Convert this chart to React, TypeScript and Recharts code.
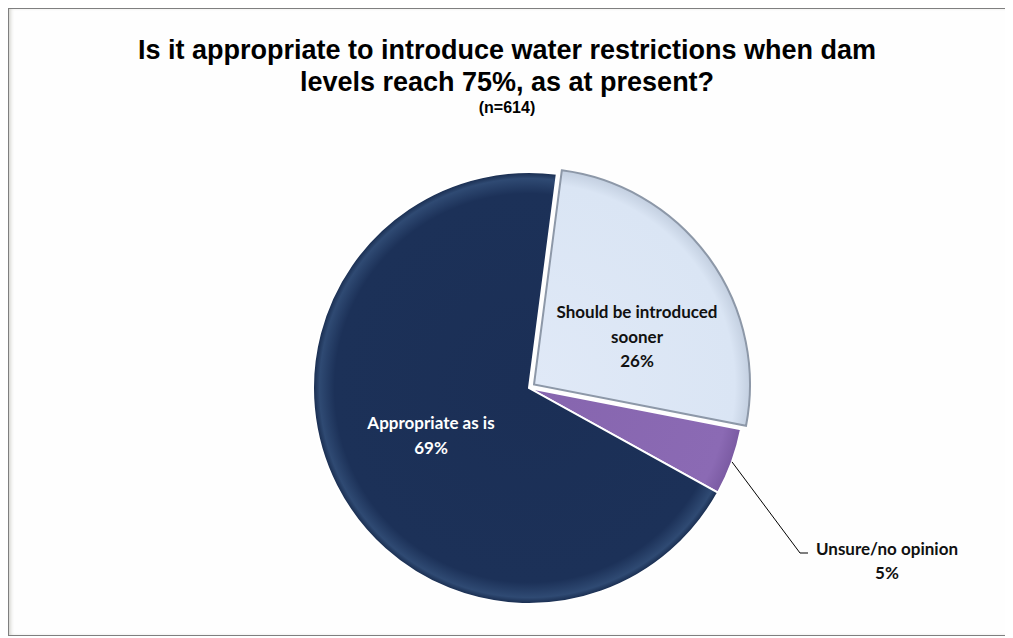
import { Cell, Pie, PieChart } from "recharts";

const categories = ["Should be introduced sooner", "Unsure/no opinion", "Appropriate as is"];
const shares = [26, 5, 69];
const labelText = [["Should be introduced", "sooner"], ["Unsure/no opinion"], ["Appropriate as is"]];
const titleLines = ["Is it appropriate to introduce water restrictions when dam", "levels reach 75%, as at present?"];
const subtitle = "(n=614)";

const COLORS = ["#dde7f6", "#8a69b2", "#1b2f55"];
const RADIAN = Math.PI / 180;

const data = categories.map((name, i) => ({ name, value: shares[i] }));

const labelFont = { fontFamily: "Lato, 'Open Sans', sans-serif", fontWeight: 700, fontSize: 17 };

function renderLabel(props: any) {
  const { cx, cy, index, midAngle, outerRadius, value } = props;
  const lines = [...labelText[index], `${value}%`];
  if (index === 0) {
    return (
      <g>
        {lines.map((t, i) => (
          <text key={i} x={cx + 103} y={cy - 73 + i * 24.5} textAnchor="middle" dominantBaseline="central" fill="#111" style={labelFont}>
            {t}
          </text>
        ))}
      </g>
    );
  }
  if (index === 2) {
    return (
      <g>
        {lines.map((t, i) => (
          <text key={i} x={cx - 98} y={cy + 34 + i * 25} textAnchor="middle" dominantBaseline="central" fill="#fff" style={labelFont}>
            {t}
          </text>
        ))}
      </g>
    );
  }
  const x0 = cx + outerRadius * Math.cos(-midAngle * RADIAN);
  const y0 = cy + outerRadius * Math.sin(-midAngle * RADIAN);
  return (
    <g>
      <polyline points={`${x0},${y0} ${cx + 271},${cy + 165} ${cx + 279},${cy + 165}`} fill="none" stroke="#000" strokeWidth={1} />
      {lines.map((t, i) => (
        <text key={i} x={cx + 358} y={cy + 160 + i * 24} textAnchor="middle" dominantBaseline="central" fill="#111" style={labelFont}>
          {t}
        </text>
      ))}
    </g>
  );
}

export default function App() {
  return (
    <div
      style={{
        position: "relative",
        width: 998,
        height: 628,
        boxSizing: "border-box",
        border: "1px solid #7f7f7f",
        background: "#fefefe",
        boxShadow: "inset 3px 0 4px -2px #c8c8c0",
      }}
    >
      <div
        style={{
          position: "absolute",
          top: 25,
          left: 0,
          width: "100%",
          textAlign: "center",
          fontFamily: "'Liberation Sans', Arial, sans-serif",
          fontWeight: 700,
          fontSize: 27,
          lineHeight: "32px",
          color: "#000",
        }}
      >
        {titleLines.map((t) => (
          <div key={t}>{t}</div>
        ))}
      </div>
      <div
        style={{
          position: "absolute",
          top: 90,
          left: 0,
          width: "100%",
          textAlign: "center",
          fontFamily: "'Liberation Sans', Arial, sans-serif",
          fontWeight: 700,
          fontSize: 16,
          lineHeight: "18px",
        }}
      >
        {subtitle}
      </div>
      <PieChart
        width={996}
        height={626}
        margin={{ top: 0, right: 0, bottom: 0, left: 0 }}
        style={{ position: "absolute", top: 0, left: 0 }}
      >
        <defs>
          <radialGradient id="darkGrad" gradientUnits="userSpaceOnUse" cx={520} cy={379} r={216}>
            <stop offset="0%" stopColor="#1b2f56" />
            <stop offset="90%" stopColor="#1c3158" />
            <stop offset="97%" stopColor="#2f4a73" />
            <stop offset="100%" stopColor="#172a4c" />
          </radialGradient>
          <radialGradient id="lightGrad" gradientUnits="userSpaceOnUse" cx={525} cy={375.5} r={216}>
            <stop offset="0%" stopColor="#e0e9f7" />
            <stop offset="93%" stopColor="#dae5f4" />
            <stop offset="100%" stopColor="#c3cfe0" />
          </radialGradient>
          <radialGradient id="purpleGrad" gradientUnits="userSpaceOnUse" cx={520} cy={379} r={216}>
            <stop offset="0%" stopColor="#8665ae" />
            <stop offset="92%" stopColor="#8b6ab4" />
            <stop offset="100%" stopColor="#7a5aa2" />
          </radialGradient>
        </defs>
        <Pie
          data={data}
          dataKey="value"
          nameKey="name"
          cx={520}
          cy={379}
          outerRadius={216}
          startAngle={82.6}
          endAngle={-277.4}
          stroke="#fff"
          strokeWidth={2}
          label={(p: any) => (p.index === 0 ? <g /> : renderLabel(p))}
          labelLine={false}
          isAnimationActive={false}
        >
          {data.map((d, i) => (
            <Cell
              key={d.name}
              fill={i === 0 ? "none" : i === 2 ? "url(#darkGrad)" : "url(#purpleGrad)"}
              stroke={i === 0 ? "none" : "#fff"}
            />
          ))}
        </Pie>
        <Pie
          data={data}
          dataKey="value"
          nameKey="name"
          cx={525}
          cy={375.5}
          outerRadius={216}
          startAngle={82.6}
          endAngle={-277.4}
          label={(p: any) => (p.index === 0 ? renderLabel(p) : <g />)}
          labelLine={false}
          isAnimationActive={false}
        >
          {data.map((d, i) => (
            <Cell
              key={d.name}
              fill={i === 0 ? "url(#lightGrad)" : "none"}
              stroke={i === 0 ? "#8d98a8" : "none"}
              strokeWidth={i === 0 ? 2 : 0}
            />
          ))}
        </Pie>
      </PieChart>
    </div>
  );
}
